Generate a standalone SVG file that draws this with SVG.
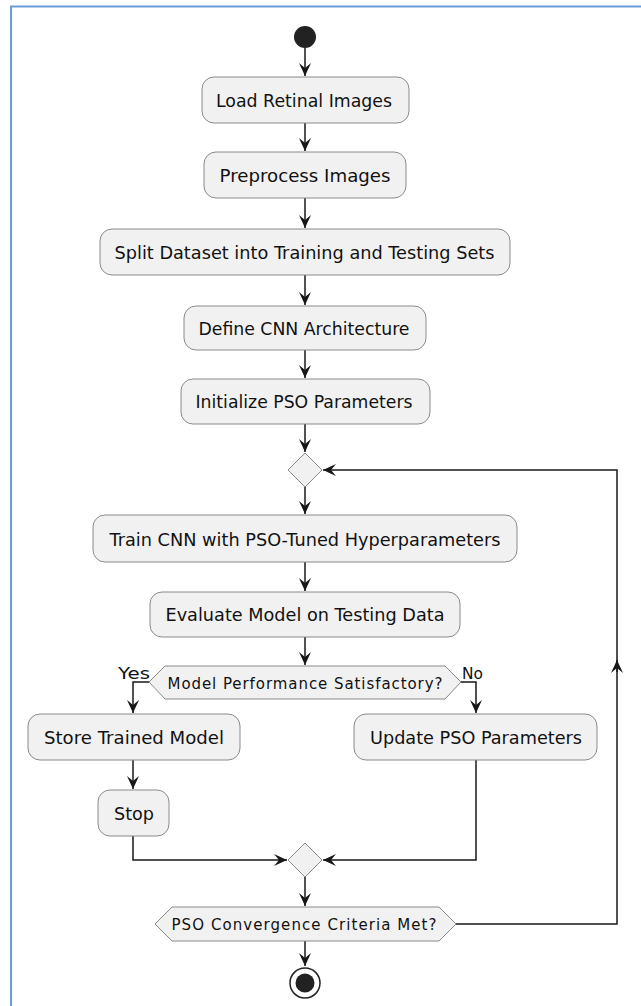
<svg xmlns="http://www.w3.org/2000/svg" width="641" height="1006" viewBox="0 0 641 1006">
<defs>
<style>
.act{fill:#F1F1F1;stroke:#8a8a8a;stroke-width:1}
.dec{fill:#F1F1F1;stroke:#8a8a8a;stroke-width:1}
.t{font-family:"DejaVu Sans",sans-serif;font-size:18px;fill:#111;text-anchor:middle}
.ts{font-family:"DejaVu Sans",sans-serif;font-size:15px;fill:#111;text-anchor:middle}
.lbl{font-family:"DejaVu Sans",sans-serif;font-size:15px;fill:#111}
.ln{fill:none;stroke:#181818;stroke-width:1.5}
</style>
<marker id="ah" markerUnits="userSpaceOnUse" markerWidth="14" markerHeight="12" refX="13" refY="6" orient="auto" viewBox="0 0 14 12">
<path d="M0,0 L13,6 L0,12 L5,6 Z" fill="#181818"/>
</marker>
</defs>
<rect width="641" height="1006" fill="#ffffff"/>
<path d="M11,1006 V6.5 H641" fill="none" stroke="#6b9bd8" stroke-width="2"/>

<g id="connectors">
<path class="ln" d="M305,48 V76" marker-end="url(#ah)"/>
<path class="ln" d="M305,123 V151" marker-end="url(#ah)"/>
<path class="ln" d="M305,198 V228" marker-end="url(#ah)"/>
<path class="ln" d="M305,275 V305" marker-end="url(#ah)"/>
<path class="ln" d="M305,350 V378" marker-end="url(#ah)"/>
<path class="ln" d="M305,424 V452" marker-end="url(#ah)"/>
<path class="ln" d="M305,487 V514" marker-end="url(#ah)"/>
<path class="ln" d="M305,562 V591" marker-end="url(#ah)"/>
<path class="ln" d="M305,637 V665" marker-end="url(#ah)"/>
<path class="ln" d="M149,682 H133 V713" marker-end="url(#ah)"/>
<path class="ln" d="M461,682 H476 V713" marker-end="url(#ah)"/>
<path class="ln" d="M133,760 V789" marker-end="url(#ah)"/>
<path class="ln" d="M133,836 V860 H287" marker-end="url(#ah)"/>
<path class="ln" d="M476,760 V860 H323" marker-end="url(#ah)"/>
<path class="ln" d="M305,877 V906" marker-end="url(#ah)"/>
<path class="ln" d="M305,941 V966" marker-end="url(#ah)"/>
<path class="ln" d="M456,924 H617 V470 H323" marker-end="url(#ah)"/>
<path class="ln" d="M617,672 V660" marker-end="url(#ah)"/>
<text class="lbl" x="118" y="679" textLength="32" lengthAdjust="spacingAndGlyphs">Yes</text>
<text class="lbl" x="462" y="679" textLength="21" lengthAdjust="spacingAndGlyphs">No</text>
</g>

<g id="start"><circle cx="305" cy="37" r="11" fill="#222222"/></g>

<g id="load"><rect class="act" x="202" y="77" width="207" height="46" rx="12"/><text class="t" x="304" y="106.5" textLength="176" lengthAdjust="spacingAndGlyphs">Load Retinal Images</text></g>
<g id="preprocess"><rect class="act" x="204" y="152" width="202" height="46" rx="12"/><text class="t" x="305" y="181.5" textLength="171" lengthAdjust="spacingAndGlyphs">Preprocess Images</text></g>
<g id="split"><rect class="act" x="100" y="229" width="410" height="46" rx="12"/><text class="t" x="304.5" y="258.5" textLength="380" lengthAdjust="spacingAndGlyphs">Split Dataset into Training and Testing Sets</text></g>
<g id="define"><rect class="act" x="184" y="306" width="242" height="44" rx="12"/><text class="t" x="304" y="334.5" textLength="211" lengthAdjust="spacingAndGlyphs">Define CNN Architecture</text></g>
<g id="init"><rect class="act" x="181" y="379" width="249" height="45" rx="12"/><text class="t" x="304" y="408" textLength="217" lengthAdjust="spacingAndGlyphs">Initialize PSO Parameters</text></g>
<g id="loop"><polygon class="dec" points="305,453 322,470 305,487 288,470"/></g>
<g id="train"><rect class="act" x="93" y="515" width="424" height="47" rx="12"/><text class="t" x="305" y="545.5" textLength="391" lengthAdjust="spacingAndGlyphs">Train CNN with PSO-Tuned Hyperparameters</text></g>
<g id="evaluate"><rect class="act" x="150" y="592" width="310" height="45" rx="12"/><text class="t" x="305" y="621" textLength="279" lengthAdjust="spacingAndGlyphs">Evaluate Model on Testing Data</text></g>
<g id="satisfactory"><polygon class="dec" points="149,682 165,666 445,666 461,682 445,699 165,699"/><text class="ts" x="305" y="689" textLength="275" lengthAdjust="spacing">Model Performance Satisfactory?</text></g>
<g id="store"><rect class="act" x="28" y="714" width="212" height="46" rx="12"/><text class="t" x="134" y="743.5" textLength="180" lengthAdjust="spacingAndGlyphs">Store Trained Model</text></g>
<g id="update"><rect class="act" x="354" y="714" width="243" height="46" rx="12"/><text class="t" x="476" y="743.5" textLength="212" lengthAdjust="spacingAndGlyphs">Update PSO Parameters</text></g>
<g id="stop"><rect class="act" x="98" y="790" width="71" height="46" rx="12"/><text class="t" x="134" y="819.5" textLength="40" lengthAdjust="spacingAndGlyphs">Stop</text></g>
<g id="merge"><polygon class="dec" points="305,843 322,860 305,877 288,860"/></g>
<g id="converge"><polygon class="dec" points="155,924 172,907 439,907 456,924 439,941 172,941"/><text class="ts" x="304" y="930" textLength="265" lengthAdjust="spacing">PSO Convergence Criteria Met?</text></g>
<g id="end"><circle cx="305" cy="983" r="15" fill="#ffffff" stroke="#222222" stroke-width="1.5"/><circle cx="305" cy="983" r="9.5" fill="#222222"/></g>
</svg>
